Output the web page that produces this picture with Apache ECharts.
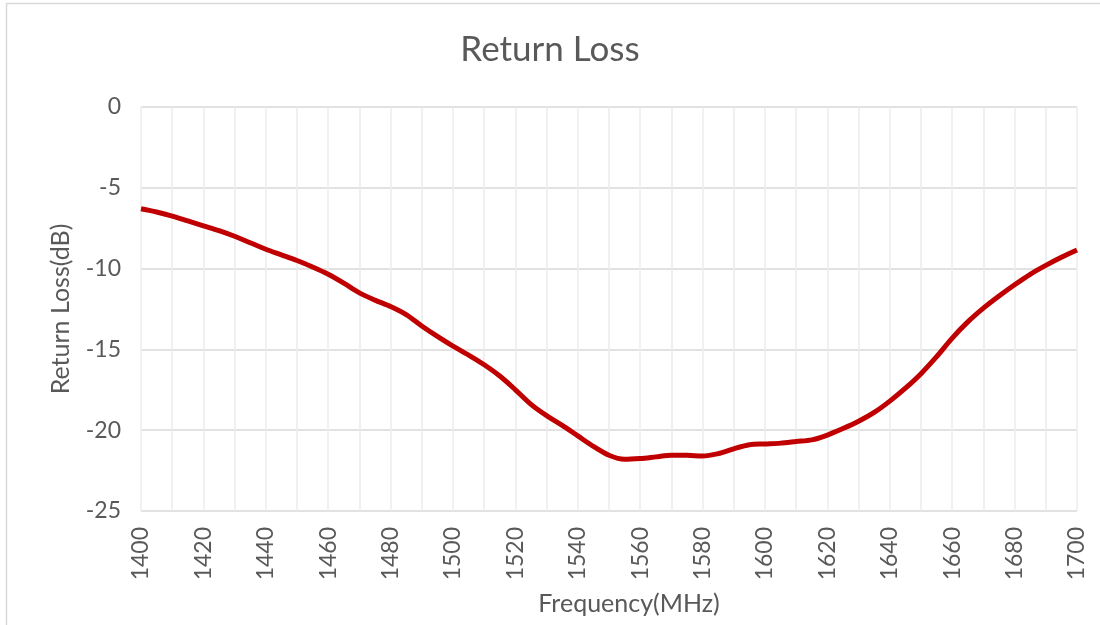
<!DOCTYPE html>
<html>
<head>
<meta charset="utf-8">
<style>
  html, body { margin: 0; padding: 0; background: #fff; }
  #chart { width: 1100px; height: 625px; }
</style>
<script src="https://cdn.jsdelivr.net/npm/echarts@6/dist/echarts.min.js"></script>
</head>
<body>
<div id="chart"></div>
<script>
// frequency (MHz) and return loss (dB), every 5 MHz
const freq = [
  1400, 1405, 1410, 1415, 1420, 1425, 1430, 1435, 1440, 1445,
  1450, 1455, 1460, 1465, 1470, 1475, 1480, 1485, 1490, 1495,
  1500, 1505, 1510, 1515, 1520, 1525, 1530, 1535, 1540, 1545,
  1550, 1555, 1560, 1565, 1570, 1575, 1580, 1585, 1590, 1595,
  1600, 1605, 1610, 1615, 1620, 1625, 1630, 1635, 1640, 1645,
  1650, 1655, 1660, 1665, 1670, 1675, 1680, 1685, 1690, 1695, 1700
]
const returnLoss = [
  -6.3, -6.5, -6.75, -7.05, -7.35, -7.65, -8.0, -8.4, -8.8, -9.15,
  -9.5, -9.9, -10.35, -10.9, -11.5, -11.95, -12.35, -12.85, -13.55, -14.2,
  -14.8, -15.35, -15.95, -16.65, -17.5, -18.4, -19.1, -19.7, -20.35, -21.0,
  -21.55, -21.8, -21.75, -21.65, -21.55, -21.55, -21.6, -21.45, -21.15, -20.9,
  -20.85, -20.8, -20.7, -20.6, -20.3, -19.9, -19.45, -18.9, -18.2, -17.4,
  -16.5, -15.45, -14.3, -13.3, -12.45, -11.7, -11.0, -10.35, -9.8, -9.3, -8.85
]

const textColor = '#595959'
const fontFamily = 'Lato, "Noto Sans", sans-serif'

const chartInstance = echarts.init(document.getElementById('chart'))
const option = {
  backgroundColor: '#fff',
  animation: false,
  textStyle: { fontFamily: fontFamily },
  graphic: [
    {
      type: 'rect',
      shape: { x: 6.5, y: 3.5, width: 1200, height: 700 },
      style: { fill: 'none', stroke: '#d9d9d9', lineWidth: 1.5 },
      silent: true
    }
  ],
  title: {
    text: 'Return Loss',
    left: 'center',
    top: 27,
    textStyle: { color: textColor, fontSize: 35, fontWeight: 'normal', fontFamily: fontFamily }
  },
  grid: { left: 141, right: 23, top: 107, bottom: 114 },
  xAxis: {
    type: 'value',
    min: 1400,
    max: 1700,
    interval: 20,
    name: 'Frequency(MHz)',
    nameLocation: 'middle',
    nameGap: 80,
    nameTextStyle: { color: textColor, fontSize: 25, padding: [0, 0, 0, 40] },
    axisLine: { show: false },
    axisTick: { show: false },
    axisLabel: { rotate: 90, margin: 16, color: textColor, fontSize: 23, formatter: v => String(v) },
    splitLine: { show: true, lineStyle: { color: '#ececec', width: 1.5 } },
    minorTick: { show: false, splitNumber: 2 },
    minorSplitLine: { show: true, lineStyle: { color: '#ececec', width: 1.5 } }
  },
  yAxis: {
    type: 'value',
    min: -25,
    max: 0,
    interval: 5,
    name: 'Return Loss(dB)',
    nameLocation: 'middle',
    nameGap: 68,
    nameTextStyle: { color: textColor, fontSize: 25 },
    axisLine: { show: false },
    axisTick: { show: false },
    axisLabel: { margin: 20, color: textColor, fontSize: 23 },
    splitLine: { show: true, lineStyle: { color: '#d9d9d9', width: 1.5 } }
  },
  series: [
    {
      type: 'line',
      data: freq.map((f, i) => [f, returnLoss[i]]),
      smooth: 0.3,
      symbol: 'none',
      lineStyle: { color: '#c00000', width: 5 },
      z: 3
    }
  ]
}
chartInstance.setOption(option)
</script>
</body>
</html>
